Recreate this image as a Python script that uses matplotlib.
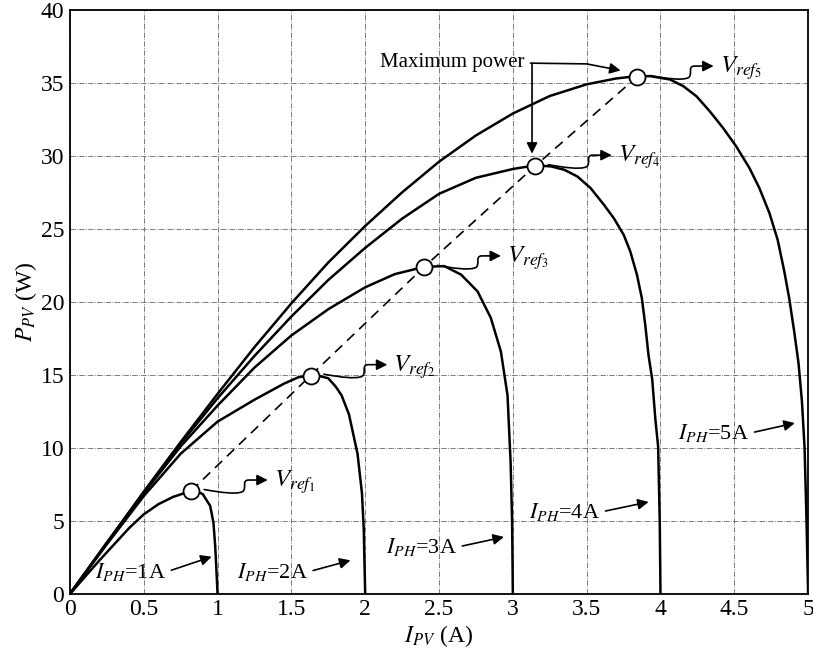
import matplotlib
matplotlib.use("Agg")
import matplotlib.pyplot as plt
from matplotlib.patches import FancyArrowPatch
from matplotlib.path import Path

plt.rcParams["font.family"] = ["Liberation Serif", "DejaVu Serif"]
plt.rcParams["mathtext.fontset"] = "stix"

# P-I curves: I_PV (A) and P_PV (W) for each photo current
i_1a = [0, 0.2, 0.4, 0.5, 0.6, 0.7, 0.82, 0.87, 0.9, 0.95, 0.972, 0.984, 0.991, 1.0]
p_1a = [0, 2.3, 4.5, 5.45, 6.15, 6.65, 7.05, 6.98, 6.83, 6.03, 4.89, 3.28, 1.9, 0]

i_2a = [0, 0.25, 0.5, 0.75, 1.0, 1.25, 1.45, 1.55, 1.63, 1.70, 1.75, 1.80, 1.84, 1.89, 1.948, 1.978, 1.99, 2.0]
p_2a = [0, 3.4, 6.7, 9.6, 11.8, 13.3, 14.4, 14.85, 14.95, 14.9, 14.77, 14.2, 13.6, 12.3, 9.6, 6.9, 4.5, 0]

i_3a = [0, 0.25, 0.5, 0.75, 1.0, 1.25, 1.5, 1.75, 2.0, 2.2, 2.4, 2.536, 2.649, 2.761, 2.851, 2.919,
        2.964, 2.985, 2.995, 3.0]
p_3a = [0, 3.5, 6.9, 10.1, 12.9, 15.5, 17.7, 19.5, 21.0, 21.9, 22.4, 22.45, 21.87, 20.72, 18.9, 16.6,
        13.6, 9.0, 5.0, 0]

i_4a = [0, 0.25, 0.5, 0.75, 1.0, 1.25, 1.5, 1.75, 2.0, 2.25, 2.5, 2.75, 3.0, 3.15, 3.258, 3.348,
        3.437, 3.527, 3.617, 3.684, 3.751, 3.796, 3.841, 3.874, 3.897, 3.919, 3.944, 3.965, 3.984,
        3.995, 4.0]
p_4a = [0, 3.5, 6.95, 10.3, 13.4, 16.3, 19.0, 21.5, 23.7, 25.7, 27.4, 28.5, 29.1, 29.35, 29.28, 29.05,
        28.59, 27.79, 26.65, 25.73, 24.59, 23.44, 21.84, 20.24, 18.41, 16.35, 14.7, 12.0, 10.1,
        5.0, 0]

i_5a = [0, 0.25, 0.5, 0.75, 1.0, 1.25, 1.5, 1.75, 2.0, 2.25, 2.5, 2.75, 3.0, 3.25, 3.5, 3.7, 3.83,
        3.93, 4.065, 4.155, 4.244, 4.334, 4.424, 4.513, 4.603, 4.670, 4.738, 4.794, 4.839, 4.872,
        4.906, 4.935, 4.958, 4.976, 4.988, 5.0]
p_5a = [0, 3.5, 7.0, 10.4, 13.7, 16.9, 19.9, 22.7, 25.2, 27.5, 29.6, 31.4, 32.9, 34.1, 34.9, 35.3, 35.45,
        35.46, 35.23, 34.77, 34.08, 33.05, 31.91, 30.65, 29.16, 27.79, 26.08, 24.24, 22.07, 20.24,
        17.95, 15.8, 13.2, 10.0, 5.5, 0]

# maximum power points
mpp_i = [0.82, 1.63, 2.40, 3.15, 3.84]
mpp_p = [7.05, 14.95, 22.4, 29.3, 35.4]

ph_labels = ["1A", "2A", "3A", "4A", "5A"]
xtick_vals = [0, 0.5, 1, 1.5, 2, 2.5, 3, 3.5, 4, 4.5, 5]
xtick_labels = ["0", "0.5", "1", "1.5", "2", "2.5", "3", "3.5", "4", "4.5", "5"]
ytick_vals = [0, 5, 10, 15, 20, 25, 30, 35, 40]

fig = plt.figure(figsize=(8.13, 6.57), dpi=100)
ax = fig.add_axes([0.086, 0.096, 0.908, 0.889])

for xs, ys in [(i_1a, p_1a), (i_2a, p_2a), (i_3a, p_3a), (i_4a, p_4a), (i_5a, p_5a)]:
    ax.plot(xs, ys, color="black", lw=1.8, zorder=3, solid_joinstyle="round")

ax.plot(mpp_i, mpp_p, color="black", lw=1.2, ls=(0, (6, 4)), zorder=2)
ax.plot(mpp_i, mpp_p, ls="none", marker="o", ms=11.5, mfc="white", mec="black", mew=1.3, zorder=5)


def squiggle(x0, y0, x1, y1):
    # wavy arrow from the operating point to its V_ref label
    dx = x1 - x0
    verts = [(x0, y0),
             (x0 + 0.25 * dx, y0 - 0.2), (x0 + 0.5 * dx, y0 - 0.35), (x0 + 0.6 * dx, y0 - 0.15),
             (x0 + 0.68 * dx, y0 + 0.05), (x0 + 0.58 * dx, y1), (x0 + 0.7 * dx, y1),
             (x1, y1)]
    codes = [Path.MOVETO, Path.CURVE4, Path.CURVE4, Path.CURVE4,
             Path.CURVE4, Path.CURVE4, Path.CURVE4, Path.LINETO]
    arr = FancyArrowPatch(path=Path(verts, codes), arrowstyle="-|>", mutation_scale=16,
                          lw=1.2, color="black", zorder=4)
    ax.add_patch(arr)


for k, (xi, yi) in enumerate(zip(mpp_i, mpp_p)):
    squiggle(xi + 0.09, yi + 0.1, xi + 0.52, yi + 0.75)
    ax.text(xi + 0.56, yi + 0.6, r"$V_{ref_{%d}}$" % (k + 1), fontsize=18, va="center", ha="left")

# I_PH labels with arrows
label_pos = [(0.17, 1.5), (1.13, 1.5), (2.14, 3.2), (3.11, 5.6), (4.12, 11.0)]
tip_pos = [(0.96, 2.55), (1.90, 2.3), (2.94, 3.9), (3.92, 6.3), (4.91, 11.7)]
for lab, (tx, ty), (ax_, ay_) in zip(ph_labels, label_pos, tip_pos):
    ax.annotate(r"$I_{PH}$=" + lab, xy=(ax_, ay_), xytext=(tx, ty), fontsize=16,
                ha="left", va="center",
                arrowprops=dict(arrowstyle="-|>", color="black", lw=1.2, mutation_scale=16,
                                relpos=(1, 0.5), shrinkA=2, shrinkB=0))

# Maximum power annotation
ax.text(2.10, 36.4, "Maximum power", fontsize=15, ha="left", va="center")
ax.annotate("", xy=(3.13, 30.15), xytext=(3.13, 36.35),
            arrowprops=dict(arrowstyle="-|>", color="black", lw=1.2, mutation_scale=16,
                            shrinkA=0, shrinkB=0))
mp_path = Path([(3.12, 36.35), (3.50, 36.3), (3.73, 35.85)], [Path.MOVETO, Path.LINETO, Path.LINETO])
ax.add_patch(FancyArrowPatch(path=mp_path, arrowstyle="-|>", mutation_scale=16, lw=1.2,
                             color="black", zorder=4))

ax.set_xlim(0, 5)
ax.set_ylim(0, 40)
ax.set_xticks(xtick_vals)
ax.set_xticklabels(xtick_labels)
ax.set_yticks(ytick_vals)
ax.tick_params(length=0, labelsize=17, pad=4)
ax.grid(True, color="0.4", lw=0.6, ls="-.")
for sp in ax.spines.values():
    sp.set_linewidth(1.3)

ax.set_xlabel(r"$I_{PV}$ (A)", fontsize=17, labelpad=2)
ax.set_ylabel(r"$P_{PV}$ (W)", fontsize=17, labelpad=1)

fig.savefig("out.png", dpi=100)
